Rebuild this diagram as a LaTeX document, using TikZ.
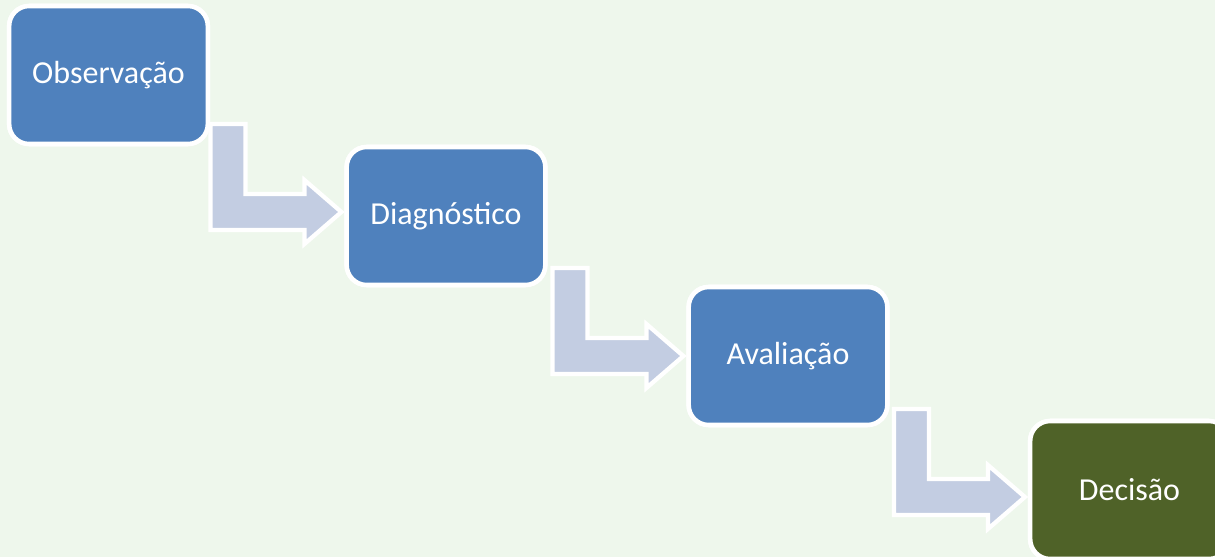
\documentclass[tikz,border=0pt]{standalone}
\usepackage{fontspec}
\setmainfont{Carlito}
\usetikzlibrary{calc}
\definecolor{bgc}{HTML}{EEF7EC}
\definecolor{boxblue}{HTML}{4F81BD}
\definecolor{boxgreen}{HTML}{4F6228}
\definecolor{arrc}{HTML}{C3CDE2}
\tikzset{
  stagebox/.style={draw=white, line width=3.4pt, fill=boxblue, rounded corners=15pt,
    minimum width=149pt, minimum height=103.5pt, inner sep=0pt, text=white,
    font=\fontsize{24}{27}\selectfont},
  finalbox/.style={stagebox, fill=boxgreen},
  bentarrow/.style={draw=white, line width=3.2pt, fill=arrc, line join=miter},
}
\newcommand\mybent[2]{%
  \coordinate (tip#1) at ($(#1.west)+(-3,#2)$);
  \draw[bentarrow] ($(tip#1)+(-131,-88)$) -- ($(tip#1)+(-96,-88)$) -- ($(tip#1)+(-96,-18)$)
    -- ($(tip#1)+(-37,-18)$) -- ($(tip#1)+(-37,-32)$) -- (tip#1)
    -- ($(tip#1)+(-37,32)$) -- ($(tip#1)+(-37,18)$) -- ($(tip#1)+(-131,18)$) -- cycle;}
\begin{document}
\begin{tikzpicture}[x=0.75pt,y=-0.75pt]
\useasboundingbox (0,0) rectangle (1215,557);
\fill[bgc] (0,0) rectangle (1215,557);
\path (108.5,75) node[stagebox] (obs) {};
\path (446,216) node[stagebox] (diag) {};
\path (788,356) node[stagebox] (aval) {};
\path (1129.5,490) node[finalbox] (dec) {};
\mybent{diag}{-4}
\mybent{aval}{0}
\mybent{dec}{7}
\node[stagebox] at (obs) {Observação};
\node[stagebox] at (diag) {Diagnóstico};
\node[stagebox] at (aval) {Avaliação};
\node[finalbox] at (dec) {Decisão};
\end{tikzpicture}
\end{document}
